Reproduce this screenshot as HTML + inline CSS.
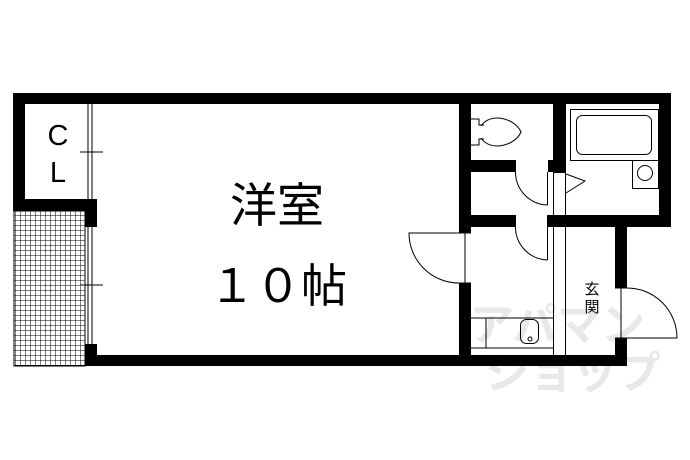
<!DOCTYPE html>
<html><head><style>body{margin:0;background:#fff}svg{display:block}</style></head><body>
<svg width="690" height="460" viewBox="0 0 690 460" xmlns="http://www.w3.org/2000/svg">
<defs>
<pattern id="g" width="5" height="5" patternUnits="userSpaceOnUse"><rect width="5" height="5" fill="#fff"/><path d="M0 0H5M0 0V5" stroke="#000" stroke-width="1"/></pattern>
</defs>
<g fill="#e8e8e8" font-family="Liberation Sans, Noto Sans CJK JP, sans-serif" font-weight="bold">
<text x="470" y="340" font-size="44">アパマン</text>
<text x="485" y="388" font-size="44">ショップ</text>
</g>
<rect x="14" y="211" width="71" height="155" fill="url(#g)" stroke="#000" stroke-width="1"/>
<g fill="#000">
<rect x="13" y="93" width="658" height="11"/>
<rect x="13" y="93" width="12" height="118"/>
<rect x="13" y="199" width="84" height="12"/>
<rect x="85" y="199" width="12" height="28"/>
<rect x="85" y="344" width="12" height="22"/>
<rect x="85" y="355" width="386" height="11"/>
<rect x="459" y="93" width="12" height="140"/>
<rect x="459" y="283" width="12" height="83"/>
<rect x="459" y="355" width="168" height="11"/>
<rect x="659" y="93" width="12" height="134"/>
<rect x="471" y="160" width="44" height="12"/>
<rect x="548" y="160" width="18" height="12"/>
<rect x="553" y="93" width="13" height="80"/>
<rect x="471" y="215" width="44" height="12"/>
<rect x="547" y="215" width="124" height="12"/>
<rect x="615" y="227" width="12" height="61"/>
<rect x="615" y="338" width="12" height="28"/>
</g>
<g fill="none" stroke="#000" stroke-width="1">
<path d="M88 104V199M92 104V199M88 227V344M92 227V344"/>
<path d="M80 152H103M80 285H103"/>
<path d="M471 119H479V125H484M471 145H479V139H484"/>
<path d="M481 126 C490 112 515 118 521 132 C515 146 490 152 481 138"/>
<rect x="570.5" y="109.5" width="88" height="51"/>
<rect x="576.5" y="115.5" width="75" height="39" rx="6"/>
<rect x="632.5" y="160.5" width="26" height="28"/>
<circle cx="645" cy="173" r="7.5"/>
<path d="M566 174L585 181L566 193"/>
<path d="M547.5 172V205M515.5 172A33 33 0 0 0 547.5 205"/>
<path d="M515.5 160V172"/>
<path d="M547.5 227V260M515.5 227A33 33 0 0 0 547.5 260M515.5 215V227"/>
<path d="M553.5 172V355M565.5 172V355"/>
<path d="M459 233H471M459 283H471M465 233V283"/>
<path d="M459 283A50 50 0 0 1 409 233H459"/>
<path d="M615 288H627M615 338H627M621 288V338"/>
<path d="M627 288A50 50 0 0 1 677 338H627"/>
<path d="M471 318H553M486 318V348M471 348H553"/>
<rect x="520.5" y="319.5" width="18" height="24" rx="6"/>
<circle cx="530" cy="339" r="2"/>
</g>
<g font-family="Liberation Sans, Noto Sans CJK JP, sans-serif" fill="#000">
<text x="58" y="145" font-size="29" text-anchor="middle">C</text>
<text x="58" y="182" font-size="29" text-anchor="middle">L</text>
<text x="277" y="222" font-size="47" text-anchor="middle">洋室</text>
<text x="278" y="302" font-size="46" text-anchor="middle">１０帖</text>
<text x="592" y="294" font-size="15" text-anchor="middle">玄</text>
<text x="592" y="312" font-size="15" text-anchor="middle">関</text>
</g>
</svg>
</body></html>
